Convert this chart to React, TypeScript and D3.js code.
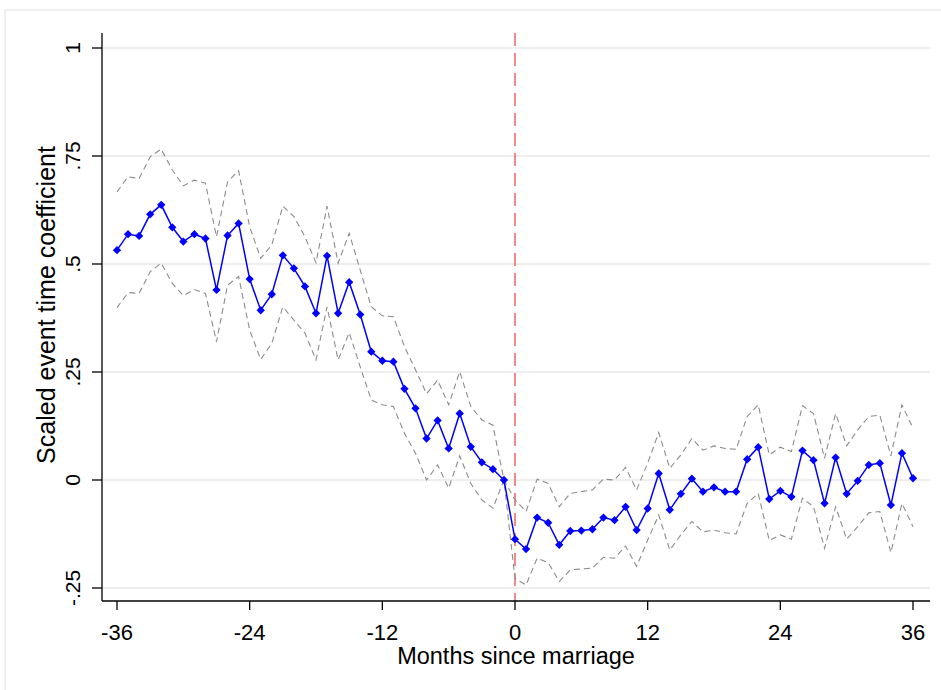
import React, { useEffect, useRef } from "react";
import * as d3 from "d3";

// months since marriage, -36 .. 36
const months: number[] = d3.range(-36, 37);

// scaled event time coefficients
const coef: number[] = [
  0.532, 0.569, 0.565, 0.615, 0.637, 0.585, 0.552, 0.569, 0.559, 0.44, 0.566, 0.594,
  0.465, 0.393, 0.43, 0.52, 0.49, 0.448, 0.386, 0.519, 0.386, 0.458, 0.383, 0.297,
  0.276, 0.274, 0.211, 0.166, 0.096, 0.138, 0.073, 0.154, 0.077, 0.041, 0.025, 0,
  -0.137, -0.16, -0.087, -0.099, -0.15, -0.118, -0.117, -0.114, -0.087, -0.093, -0.062, -0.116,
  -0.066, 0.015, -0.069, -0.032, 0.003, -0.027, -0.017, -0.027, -0.027, 0.048, 0.076, -0.044,
  -0.025, -0.039, 0.068, 0.046, -0.054, 0.052, -0.032, -0.002, 0.035, 0.039, -0.058, 0.062,
  0.004,
];

// upper 95% bound
const ciHigh: number[] = [
  0.667, 0.702, 0.698, 0.748, 0.766, 0.718, 0.681, 0.694, 0.687, 0.563, 0.69, 0.716,
  0.586, 0.513, 0.544, 0.634, 0.61, 0.563, 0.503, 0.634, 0.502, 0.571, 0.486, 0.401,
  0.38, 0.378, 0.309, 0.255, 0.2, 0.231, 0.174, 0.251, 0.17, 0.139, 0.127, 0,
  -0.046, -0.073, 0.002, -0.008, -0.062, -0.031, -0.027, -0.023, 0.002, 0, 0.029, -0.023,
  0.039, 0.11, 0.027, 0.058, 0.096, 0.069, 0.079, 0.073, 0.071, 0.147, 0.174, 0.058,
  0.076, 0.066, 0.172, 0.154, 0.05, 0.154, 0.079, 0.116, 0.147, 0.15, 0.056, 0.174,
  0.12,
];

// lower 95% bound
const ciLow: number[] = [
  0.399, 0.434, 0.432, 0.482, 0.502, 0.455, 0.427, 0.441, 0.432, 0.32, 0.451, 0.471,
  0.347, 0.279, 0.316, 0.401, 0.37, 0.34, 0.278, 0.401, 0.278, 0.341, 0.262, 0.185,
  0.174, 0.17, 0.108, 0.062, 0.0, 0.035, -0.019, 0.056, -0.008, -0.046, -0.065, 0,
  -0.228, -0.243, -0.181, -0.191, -0.235, -0.208, -0.206, -0.204, -0.179, -0.181, -0.153, -0.2,
  -0.139, -0.081, -0.162, -0.127, -0.096, -0.12, -0.116, -0.122, -0.125, -0.054, -0.031, -0.14,
  -0.127, -0.137, -0.042, -0.062, -0.158, -0.062, -0.137, -0.108, -0.076, -0.073, -0.168, -0.054,
  -0.108,
];

const xTicks: number[] = [-36, -24, -12, 0, 12, 24, 36];
const yTicks: number[] = [-0.25, 0, 0.25, 0.5, 0.75, 1];
const yTickLabels: string[] = ["-.25", "0", ".25", ".5", ".75", "1"];

const FONT = "'Liberation Sans', Arial, Helvetica, sans-serif";

export default function App() {
  const svgRef = useRef<SVGSVGElement | null>(null);

  useEffect(() => {
    if (!svgRef.current) return;
    const svg = d3.select(svgRef.current);
    svg.selectAll("*").remove();

    // plot region edges (axis lines)
    const left = 102;
    const right = 930;
    const top = 33;
    const bottom = 601;

    const x = d3.scaleLinear().domain([-36, 36]).range([117, 913]);
    const y = d3.scaleLinear().domain([-0.25, 1]).range([588, 48]);

    // outer graph frame
    svg
      .append("rect")
      .attr("x", 5)
      .attr("y", 10)
      .attr("width", 960)
      .attr("height", 700)
      .attr("fill", "white")
      .attr("stroke", "#ececec")
      .attr("stroke-width", 1.5);

    // horizontal grid
    svg
      .append("g")
      .selectAll("line")
      .data(yTicks)
      .join("line")
      .attr("x1", left)
      .attr("x2", right)
      .attr("y1", (d) => y(d))
      .attr("y2", (d) => y(d))
      .attr("stroke", "#e8e8e8")
      .attr("stroke-width", 1.6);

    // marriage line
    svg
      .append("line")
      .attr("x1", x(0))
      .attr("x2", x(0))
      .attr("y1", top)
      .attr("y2", bottom)
      .attr("stroke", "#f05a5a")
      .attr("stroke-width", 1.4)
      .attr("stroke-dasharray", "13 7");

    const rows = months.map((m, i) => ({ m, b: coef[i], hi: ciHigh[i], lo: ciLow[i] }));

    const ciLine = (key: "hi" | "lo") =>
      d3
        .line<(typeof rows)[number]>()
        .x((d) => x(d.m))
        .y((d) => y(d[key]));

    (["hi", "lo"] as const).forEach((k) => {
      svg
        .append("path")
        .datum(rows)
        .attr("fill", "none")
        .attr("stroke", "#8c8c8c")
        .attr("stroke-width", 1.1)
        .attr("stroke-dasharray", "6 4")
        .attr("d", ciLine(k));
    });

    const coefLine = d3
      .line<(typeof rows)[number]>()
      .x((d) => x(d.m))
      .y((d) => y(d.b));

    svg
      .append("path")
      .datum(rows)
      .attr("fill", "none")
      .attr("stroke", "#0000ff")
      .attr("stroke-width", 1.5)
      .attr("d", coefLine);

    svg
      .append("g")
      .selectAll("path")
      .data(rows)
      .join("path")
      .attr("transform", (d) => `translate(${x(d.m)},${y(d.b)})`)
      .attr("d", d3.symbol(d3.symbolDiamond2, 44)())
      .attr("fill", "#0000ff");

    // axes lines
    svg
      .append("line")
      .attr("x1", left)
      .attr("x2", left)
      .attr("y1", top)
      .attr("y2", bottom)
      .attr("stroke", "black")
      .attr("stroke-width", 1.3);
    svg
      .append("line")
      .attr("x1", left)
      .attr("x2", right)
      .attr("y1", bottom)
      .attr("y2", bottom)
      .attr("stroke", "black")
      .attr("stroke-width", 1.3);

    // y ticks + labels
    const yg = svg.append("g");
    yg.selectAll("line")
      .data(yTicks)
      .join("line")
      .attr("x1", left - 10)
      .attr("x2", left)
      .attr("y1", (d) => y(d))
      .attr("y2", (d) => y(d))
      .attr("stroke", "black")
      .attr("stroke-width", 1.3);
    yg.selectAll("text")
      .data(yTicks)
      .join("text")
      .attr("transform", (d) => `translate(80,${y(d)}) rotate(-90)`)
      .attr("text-anchor", "middle")
      .attr("font-family", FONT)
      .attr("font-size", 21)
      .text((d, i) => yTickLabels[i]);

    // x ticks + labels
    const xg = svg.append("g");
    xg.selectAll("line")
      .data(xTicks)
      .join("line")
      .attr("x1", (d) => x(d))
      .attr("x2", (d) => x(d))
      .attr("y1", bottom)
      .attr("y2", bottom + 9)
      .attr("stroke", "black")
      .attr("stroke-width", 1.3);
    xg.selectAll("text")
      .data(xTicks)
      .join("text")
      .attr("x", (d) => x(d))
      .attr("y", 640)
      .attr("text-anchor", "middle")
      .attr("font-family", FONT)
      .attr("font-size", 22)
      .text((d) => String(d));

    // titles
    svg
      .append("text")
      .attr("x", 516)
      .attr("y", 664)
      .attr("text-anchor", "middle")
      .attr("font-family", FONT)
      .attr("font-size", 23.5)
      .text("Months since marriage");

    svg
      .append("text")
      .attr("transform", `translate(55,305) rotate(-90)`)
      .attr("text-anchor", "middle")
      .attr("font-family", FONT)
      .attr("font-size", 25)
      .text("Scaled event time coefficient");
  }, []);

  return (
    <div style={{ position: "absolute", left: 0, top: 0 }}>
      <svg ref={svgRef} width={941} height={690} style={{ display: "block" }} />
    </div>
  );
}
